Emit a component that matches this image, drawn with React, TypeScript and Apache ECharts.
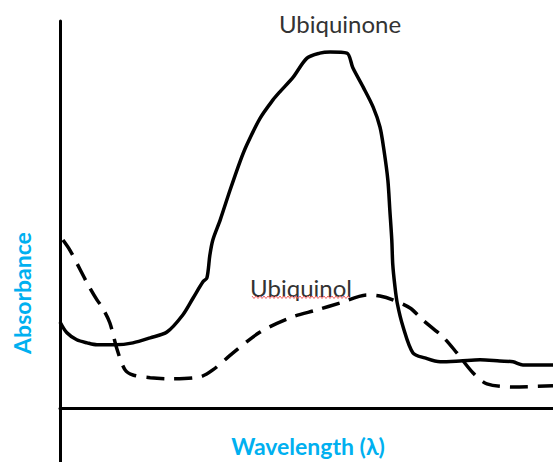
import React, { useEffect, useRef } from "react";
import * as echarts from "echarts";

// Relative wavelength (0-100) and absorbance (0-100)
const ubiquinoneX = [0, 1.4, 3.4, 5.5, 7.5, 11.2, 14.8, 18.3, 21.7, 24.9, 27.0, 29.0, 29.8, 30.4, 31.0, 32.5, 34.5, 36.5, 37.9, 40.6, 43.2, 44.6, 47.3, 50.1, 52.7, 54.8, 58.2, 59.4, 61.5, 63.5, 64.9, 65.7, 66.5, 66.9, 67.3, 67.5, 67.9, 68.4, 69.6, 71.6, 74.0, 77.1, 81.1, 85.2, 89.2, 91.9, 93.9, 100];
const ubiquinoneY = [22.2, 19.4, 17.6, 16.8, 16.3, 16.3, 16.8, 18.1, 19.6, 24.0, 28.4, 32.6, 33.6, 39.5, 43.4, 48.6, 56.3, 63.6, 68.0, 74.9, 79.6, 81.7, 85.5, 90.4, 91.7, 92.0, 91.7, 87.9, 82.9, 77.8, 72.6, 66.7, 58.9, 51.2, 43.4, 37.0, 31.8, 27.1, 20.9, 14.2, 12.9, 11.9, 12.1, 12.4, 12.1, 11.9, 11.1, 11.1];

const ubiquinolX = [0.6, 2.0, 4.1, 5.7, 7.5, 8.5, 10.1, 11.6, 13.2, 14.8, 18.3, 22.9, 28.4, 31.0, 35.1, 40.6, 46.7, 52.1, 56.8, 62.3, 64.9, 67.5, 71.0, 73.6, 77.7, 80.5, 83.8, 86.6, 91.9, 100];
const ubiquinolY = [43.4, 40.8, 35.7, 31.8, 27.9, 26.1, 22.0, 15.0, 9.8, 8.5, 7.8, 7.5, 8.0, 9.8, 14.2, 19.6, 23.3, 25.3, 27.1, 29.2, 28.9, 27.9, 25.8, 22.7, 18.3, 14.2, 9.0, 6.2, 5.4, 5.7];

const xLabel = "Wavelength (λ)";
const yLabel = "Absorbance";
const seriesNames = ["Ubiquinone", "Ubiquinol"];

const BLUE = "#00B0F0";
const FONT = "Lato, 'Open Sans', sans-serif";

function zip(xs: number[], ys: number[]) {
  return xs.map((x, i) => [x, ys[i]]);
}

export default function App() {
  const ref = useRef<HTMLDivElement>(null);
  useEffect(() => {
    if (!ref.current) return;
    const chart = echarts.init(ref.current, undefined, { renderer: "svg" });
    const wave: number[][] = [];
    for (let i = 0; i <= 49; i++) {
      wave.push([252 + i * 2, i % 2 === 0 ? 296 : 298.5]);
    }
    chart.setOption({
      animation: false,
      grid: { left: 60, right: 0, top: 21, bottom: 0 },
      xAxis: {
        type: "value",
        min: 0,
        max: 100,
        axisLine: { show: true, onZero: true, lineStyle: { color: "#000", width: 3 } },
        axisTick: { show: false },
        axisLabel: { show: false },
        splitLine: { show: false },
      },
      yAxis: {
        type: "value",
        min: -14,
        max: 100,
        axisLine: { show: true, onZero: false, lineStyle: { color: "#000", width: 3 } },
        axisTick: { show: false },
        axisLabel: { show: false },
        splitLine: { show: false },
      },
      series: [
        {
          name: seriesNames[0],
          type: "line",
          data: zip(ubiquinoneX, ubiquinoneY),
          smooth: 0.3,
          showSymbol: false,
          lineStyle: { color: "#000", width: 3.5 },
        },
        {
          name: seriesNames[1],
          type: "line",
          data: zip(ubiquinolX, ubiquinolY),
          smooth: 0.3,
          showSymbol: false,
          lineStyle: { color: "#000", width: 3.5, type: [18, 10] },
        },
      ],
      graphic: [
        {
          type: "text",
          x: 340,
          y: 23,
          style: { text: seriesNames[0], font: `24px ${FONT}`, fill: "#333", textAlign: "center", textVerticalAlign: "middle" },
        },
        {
          type: "text",
          x: 301,
          y: 287,
          style: { text: seriesNames[1], font: `24px ${FONT}`, fill: "#333", textAlign: "center", textVerticalAlign: "middle" },
        },
        {
          type: "polyline",
          shape: { points: wave },
          style: { stroke: "#F06060", lineWidth: 1, fill: "none" },
        },
        {
          type: "text",
          x: 308,
          y: 446,
          style: { text: xLabel, font: `bold 23px ${FONT}`, fill: BLUE, textAlign: "center", textVerticalAlign: "middle" },
        },
        {
          type: "text",
          x: 22,
          y: 293,
          rotation: Math.PI / 2,
          style: { text: yLabel, font: `bold 23px ${FONT}`, fill: BLUE, textAlign: "center", textVerticalAlign: "middle" },
        },
      ],
    });
    return () => chart.dispose();
  }, []);
  return <div ref={ref} style={{ width: 553, height: 462, position: "absolute", left: 0, top: 0 }} />;
}
